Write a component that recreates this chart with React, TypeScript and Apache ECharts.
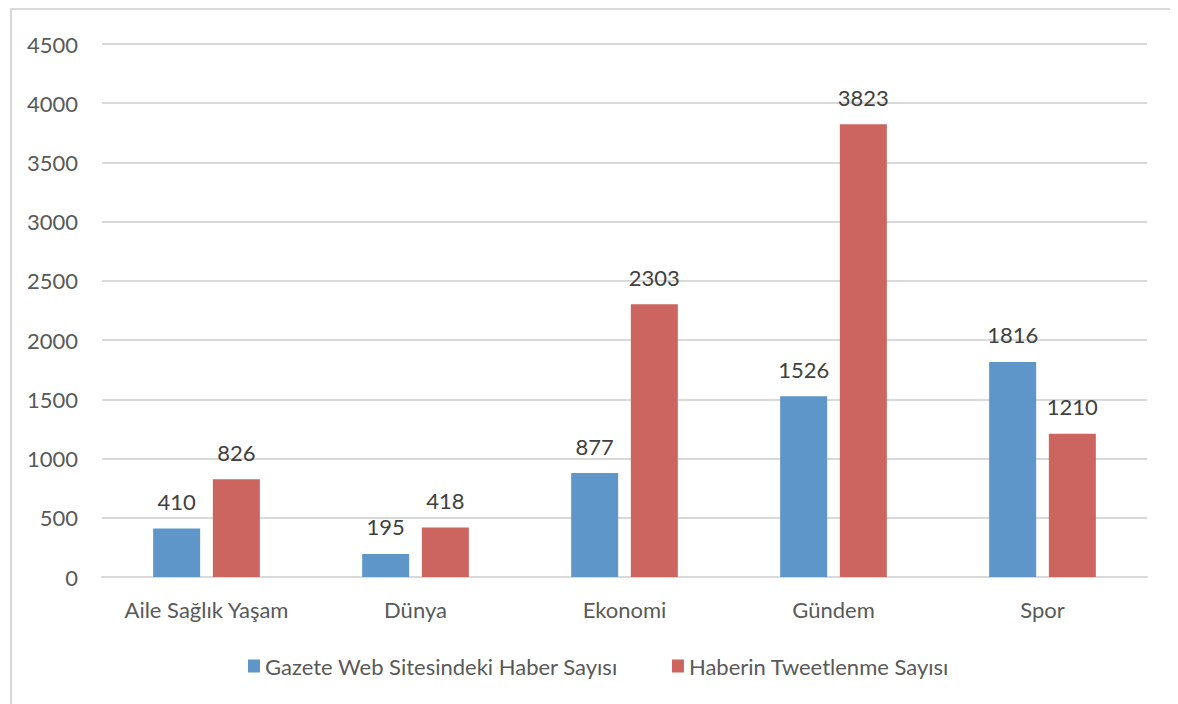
import React, { useEffect, useRef } from "react";
import * as echarts from "echarts";

const categories = ["Aile Sağlık Yaşam", "Dünya", "Ekonomi", "Gündem", "Spor"];
const webCounts = [410, 195, 877, 1526, 1816];
const tweetCounts = [826, 418, 2303, 3823, 1210];
const seriesNames = ["Gazete Web Sitesindeki Haber Sayısı", "Haberin Tweetlenme Sayısı"];

const FONT = "Lato";
const FS = 22;

export default function App() {
  const ref = useRef<HTMLDivElement>(null);
  useEffect(() => {
    if (!ref.current) return;
    const chart = echarts.init(ref.current, undefined, { renderer: "svg" });
    const labelStyle = {
      show: true,
      position: "top" as const,
      distance: 16,
      color: "#404040",
      fontSize: FS,
      fontFamily: FONT,
    };
    chart.setOption({
      animation: false,
      backgroundColor: "#ffffff",
      textStyle: { fontFamily: FONT },
      graphic: [
        {
          type: "rect",
          shape: { x: 3, y: 1, width: 1400, height: 1000 },
          style: { fill: "none", stroke: "#d9d9d9", lineWidth: 2 },
          silent: true,
        },
      ],
      grid: { left: 94, right: 31, top: 36, bottom: 127, containLabel: false },
      legend: {
        left: 235,
        top: 642,
        itemWidth: 12,
        itemHeight: 13,
        itemGap: 54,
        icon: "rect",
        textStyle: { color: "#595959", fontSize: FS, fontFamily: FONT },
        data: seriesNames,
      },
      xAxis: {
        type: "category",
        data: categories,
        axisTick: { show: false },
        axisLine: { lineStyle: { color: "#d9d9d9", width: 2 } },
        axisLabel: {
          color: "#595959",
          fontSize: FS,
          fontFamily: FONT,
          margin: 21,
          interval: 0,
        },
      },
      yAxis: {
        type: "value",
        min: 0,
        max: 4500,
        interval: 500,
        axisLine: { show: false },
        axisTick: { show: false },
        splitLine: { lineStyle: { color: "#d9d9d9", width: 2 } },
        axisLabel: {
          color: "#595959",
          fontSize: FS,
          fontFamily: FONT,
          margin: 24,
          formatter: (v: number) => String(v),
        },
      },
      series: [
        {
          name: seriesNames[0],
          type: "bar",
          data: webCounts,
          barWidth: 47,
          barGap: "27%",
          itemStyle: { color: "#5f96c9" },
          label: labelStyle,
        },
        {
          name: seriesNames[1],
          type: "bar",
          data: tweetCounts,
          barWidth: 47,
          barGap: "27%",
          itemStyle: { color: "#cc645f" },
          label: labelStyle,
        },
      ],
    });
    return () => chart.dispose();
  }, []);
  return <div ref={ref} style={{ width: 1170, height: 696 }} />;
}
